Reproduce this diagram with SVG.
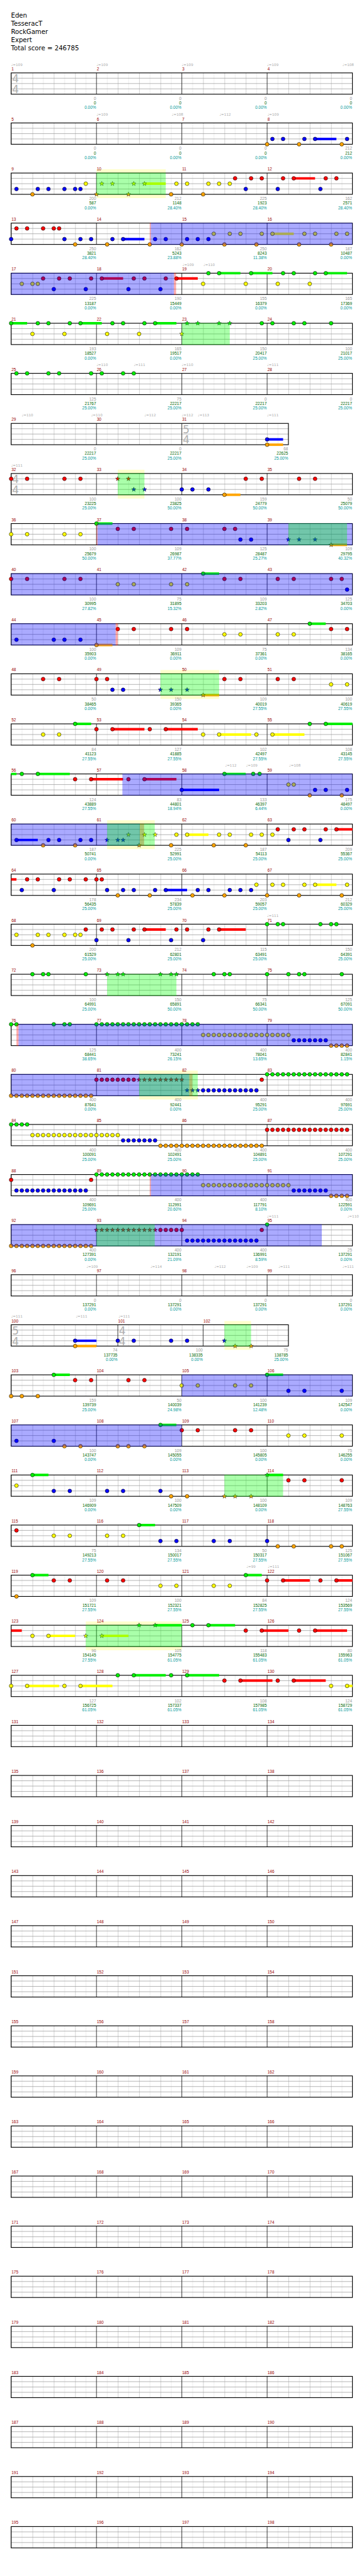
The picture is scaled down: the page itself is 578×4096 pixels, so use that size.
<svg xmlns="http://www.w3.org/2000/svg" xmlns:xlink="http://www.w3.org/1999/xlink" width="578" height="4096" viewBox="0 0 578 4096">
<style>
.h{font:18px "DejaVu Sans",sans-serif;fill:#000}
.m{font:11.5px "Liberation Sans",Arial,sans-serif;fill:#900}
.t{font:10px "DejaVu Sans",sans-serif;fill:#aaa}
.a,.b,.c{font:11.5px "Liberation Sans",Arial,sans-serif;text-anchor:end}
.a{fill:#999}.b{fill:#060}.c{fill:#099}
.ts{font:30px "DejaVu Sans",sans-serif;fill:#b0b0b0}
.hl{stroke:#999;stroke-width:1.3;fill:none}
.ml{stroke:#000;stroke-width:1.2;fill:none}
.bd{fill:none;stroke:#000;stroke-width:2}
.sg,.sr,.sy,.sb,.so{stroke-width:7;fill:none}
.sg{stroke:#0e0}.sr{stroke:#f00}.sy{stroke:#ff0}.sb{stroke:#00f}.so{stroke:#ffa500}
.bl{fill:#00f;fill-opacity:.333}
.gr{fill:#0f0;fill-opacity:.333}
.pk{fill:#f00;fill-opacity:.333}
.yb{fill:#ff0;fill-opacity:.2}
</style>
<defs>
<pattern id="bt" width="60" height="60" patternUnits="userSpaceOnUse"><rect width="60" height="60" fill="#fff"/><path d="M30.5 0V60" stroke="#ddd"/><path d="M0.5 0V60" stroke="#999"/></pattern>
<g id="S4"><rect width="960" height="60" fill="url(#bt)"/><path d="M0 15H960M0 30H960M0 45H960" class="hl"/><path d="M240 0V60M480 0V60M720 0V60" class="ml"/><rect width="960" height="60" class="bd"/></g>
<circle id="G" r="5.3" fill="#0e0" stroke="#000"/>
<circle id="R" cy="15" r="5.3" fill="#f00" stroke="#000"/>
<circle id="Y" cy="30" r="5.3" fill="#ff0" stroke="#000"/>
<circle id="B" cy="45" r="5.3" fill="#00f" stroke="#000"/>
<circle id="O" cy="60" r="5.3" fill="#ffa500" stroke="#000"/>
<path id="st" d="M0-6.5L1.6-2.2 6.2-2 2.6.8 3.8 5.3 0 2.7-3.8 5.3-2.6.8-6.2-2-1.6-2.2Z" stroke="#000" stroke-width=".8"/>
<g id="SG" fill="#0e0"><use href="#st"/></g>
<g id="SR" fill="#f00"><use href="#st" y="15"/></g>
<g id="SY" fill="#ff0"><use href="#st" y="30"/></g>
<g id="SB" fill="#00f"><use href="#st" y="45"/></g>
<g id="SO" fill="#ffa500"><use href="#st" y="60"/></g>
</defs>
<rect width="578" height="4096" fill="#fff"/>
<g transform="scale(0.5645)">
<g id="title">
<text class="h" x="31" y="49">Eden</text>
<text class="h" x="31" y="72">TesseracT</text>
<text class="h" x="31" y="95">RockGamer</text>
<text class="h" x="31" y="118">Expert</text>
<text class="h" x="31" y="141">Total score = 246785</text>
</g>

<g id="row1" transform="translate(31.3,205.3)"><use href="#S4"/>
<text class="ts" x="3" y="27">4</text><text class="ts" x="3" y="57">4</text>
<text class="t" y="-20"><tspan x="0">♩=109</tspan><tspan x="240">♩=109</tspan><tspan x="480">♩=109</tspan><tspan x="720">♩=109</tspan><tspan x="932">♩=108</tspan></text>
<text class="m" y="-7"><tspan x="1">1</tspan><tspan x="241">2</tspan><tspan x="481">3</tspan><tspan x="721">4</tspan></text>
<text class="a" y="76"><tspan x="239">0</tspan><tspan x="479">0</tspan><tspan x="719">0</tspan><tspan x="959">0</tspan></text>
<text class="b" y="89"><tspan x="239">0</tspan><tspan x="479">0</tspan><tspan x="719">0</tspan><tspan x="959">0</tspan></text>
<text class="c" y="102"><tspan x="239">0.00%</tspan><tspan x="479">0.00%</tspan><tspan x="719">0.00%</tspan><tspan x="959">0.00%</tspan></text>
</g>

<g id="row2" transform="translate(31.3,346.35)"><use href="#S4"/>
<path class="sb" d="M855 45H915"/>
<use href="#B" x="735"/><use href="#B" x="765"/><use href="#B" x="825"/><use href="#B" x="855"/><use href="#B" x="945"/>
<use href="#O" x="720"/><use href="#O" x="810"/><use href="#O" x="930"/>
<text class="t" y="-20"><tspan x="240">♩=109</tspan><tspan x="452">♩=108</tspan><tspan x="586">♩=112</tspan><tspan x="721">♩=109</tspan></text>
<text class="m" y="-7"><tspan x="1">5</tspan><tspan x="241">6</tspan><tspan x="481">7</tspan><tspan x="721">8</tspan></text>
<text class="a" y="76"><tspan x="239">0</tspan><tspan x="479">0</tspan><tspan x="719">0</tspan><tspan x="959">212</tspan></text>
<text class="b" y="89"><tspan x="239">0</tspan><tspan x="479">0</tspan><tspan x="719">0</tspan><tspan x="959">212</tspan></text>
<text class="c" y="102"><tspan x="239">0.00%</tspan><tspan x="479">0.00%</tspan><tspan x="719">0.00%</tspan><tspan x="959">0.00%</tspan></text>
</g>

<g id="row3" transform="translate(31.3,487.4)">
<rect class="yb" x="240" y="-10.6" width="195" height="81.2"/>
<use href="#S4"/>
<path class="sr" d="M795 15H855"/><path class="sy" d="M375 30H435"/>
<use href="#B" x="15"/><use href="#B" x="75"/><use href="#B" x="105"/><use href="#B" x="150"/><use href="#B" x="180"/><use href="#B" x="195"/><use href="#B" x="660"/><use href="#B" x="750"/><use href="#B" x="870"/>
<use href="#O" x="60"/><use href="#O" x="450"/><use href="#O" x="540"/>
<use href="#Y" x="210"/><use href="#Y" x="465"/><use href="#Y" x="495"/><use href="#Y" x="555"/><use href="#Y" x="585"/><use href="#Y" x="615"/>
<use href="#R" x="630"/><use href="#R" x="675"/><use href="#R" x="705"/><use href="#R" x="765"/><use href="#R" x="795"/><use href="#R" x="885"/><use href="#R" x="915"/>
<use href="#SY" x="255"/><use href="#SY" x="285"/><use href="#SY" x="345"/><use href="#SY" x="375"/><use href="#SO" x="240"/><use href="#SO" x="330"/>
<rect class="gr" x="240" y="-1" width="195" height="62"/>
<text class="m" y="-7"><tspan x="1">9</tspan><tspan x="241">10</tspan><tspan x="481">11</tspan><tspan x="721">12</tspan></text>
<text class="a" y="76"><tspan x="239">200</tspan><tspan x="479">212</tspan><tspan x="719">225</tspan><tspan x="959">162</tspan></text>
<text class="b" y="89"><tspan x="239">587</tspan><tspan x="479">1148</tspan><tspan x="719">1923</tspan><tspan x="959">2571</tspan></text>
<text class="c" y="102"><tspan x="239">0.00%</tspan><tspan x="479">28.40%</tspan><tspan x="719">28.40%</tspan><tspan x="959">28.40%</tspan></text>
</g>

<g id="row4" transform="translate(31.3,628.45)"><use href="#S4"/>
<path class="sb" d="M315 45H375"/><path class="sy" d="M735 30H795"/>
<use href="#R" x="15"/><use href="#R" x="45"/><use href="#R" x="90"/><use href="#R" x="120"/><use href="#R" x="135"/>
<use href="#B" x="0"/><use href="#B" x="150"/><use href="#B" x="195"/><use href="#B" x="225"/><use href="#B" x="285"/><use href="#B" x="315"/><use href="#B" x="405"/><use href="#B" x="435"/><use href="#B" x="495"/><use href="#B" x="525"/><use href="#B" x="555"/>
<use href="#O" x="180"/><use href="#O" x="270"/><use href="#O" x="390"/><use href="#O" x="480"/><use href="#O" x="600"/><use href="#O" x="690"/><use href="#O" x="810"/><use href="#O" x="900"/>
<use href="#Y" x="570"/><use href="#Y" x="615"/><use href="#Y" x="645"/><use href="#Y" x="705"/><use href="#Y" x="735"/><use href="#Y" x="825"/><use href="#Y" x="855"/><use href="#Y" x="915"/><use href="#Y" x="945"/>
<rect class="pk" x="390" y="-1" width="3" height="62"/><rect class="bl" x="393" y="-1" width="567" height="62"/>
<text class="m" y="-7"><tspan x="1">13</tspan><tspan x="241">14</tspan><tspan x="481">15</tspan><tspan x="721">16</tspan></text>
<text class="a" y="76"><tspan x="239">250</tspan><tspan x="479">162</tspan><tspan x="719">250</tspan><tspan x="959">187</tspan></text>
<text class="b" y="89"><tspan x="239">3821</tspan><tspan x="479">5243</tspan><tspan x="719">8243</tspan><tspan x="959">10487</tspan></text>
<text class="c" y="102"><tspan x="239">28.40%</tspan><tspan x="479">23.88%</tspan><tspan x="719">11.38%</tspan><tspan x="959">0.00%</tspan></text>
</g>

<g id="row5" transform="translate(31.3,769.5)"><use href="#S4"/>
<path class="sr" d="M255 15H315M465 15H525"/><path class="sg" d="M585 0H645M675 0H735M885 0H945"/>
<use href="#R" x="90"/><use href="#R" x="135"/><use href="#R" x="165"/><use href="#R" x="225"/><use href="#R" x="255"/><use href="#R" x="345"/><use href="#R" x="375"/><use href="#R" x="435"/><use href="#R" x="465"/>
<use href="#Y" x="30"/><use href="#Y" x="60"/><use href="#Y" x="75"/><use href="#Y" x="540"/><use href="#Y" x="660"/><use href="#Y" x="750"/><use href="#Y" x="840"/>
<use href="#B" x="120"/><use href="#B" x="210"/><use href="#B" x="330"/><use href="#B" x="420"/>
<use href="#G" x="555"/><use href="#G" x="585"/><use href="#G" x="675"/><use href="#G" x="765"/><use href="#G" x="795"/><use href="#G" x="855"/><use href="#G" x="885"/>
<rect class="bl" x="0" y="-1" width="458" height="62"/><rect class="pk" x="458" y="-1" width="6" height="62"/>
<text class="t" y="-20"><tspan x="482">♩=109</tspan><tspan x="541">♩=110</tspan></text>
<text class="m" y="-7"><tspan x="1">17</tspan><tspan x="241">18</tspan><tspan x="481">19</tspan><tspan x="721">20</tspan></text>
<text class="a" y="76"><tspan x="239">225</tspan><tspan x="479">190</tspan><tspan x="719">155</tspan><tspan x="959">165</tspan></text>
<text class="b" y="89"><tspan x="239">13187</tspan><tspan x="479">15449</tspan><tspan x="719">16379</tspan><tspan x="959">17369</tspan></text>
<text class="c" y="102"><tspan x="239">0.00%</tspan><tspan x="479">0.00%</tspan><tspan x="719">0.00%</tspan><tspan x="959">0.00%</tspan></text>
</g>

<g id="row6" transform="translate(31.3,910.55)"><use href="#S4"/>
<path class="sg" d="M0 0H45M195 0H255M405 0H465"/>
<use href="#G" x="0"/><use href="#G" x="75"/><use href="#G" x="105"/><use href="#G" x="165"/><use href="#G" x="195"/><use href="#G" x="285"/><use href="#G" x="315"/><use href="#G" x="375"/><use href="#G" x="405"/><use href="#G" x="705"/><use href="#G" x="735"/><use href="#G" x="795"/><use href="#G" x="825"/><use href="#G" x="900"/>
<use href="#SG" x="495"/><use href="#SG" x="525"/><use href="#SG" x="585"/><use href="#SG" x="615"/>
<use href="#Y" x="60"/><use href="#Y" x="150"/><use href="#Y" x="270"/><use href="#Y" x="360"/><use href="#SY" x="480"/>
<rect class="gr" x="480" y="-1" width="135" height="62"/>
<text class="m" y="-7"><tspan x="1">21</tspan><tspan x="241">22</tspan><tspan x="481">23</tspan><tspan x="721">24</tspan></text>
<text class="a" y="76"><tspan x="239">193</tspan><tspan x="479">165</tspan><tspan x="719">150</tspan><tspan x="959">100</tspan></text>
<text class="b" y="89"><tspan x="239">18527</tspan><tspan x="479">19517</tspan><tspan x="719">20417</tspan><tspan x="959">21017</tspan></text>
<text class="c" y="102"><tspan x="239">0.00%</tspan><tspan x="479">0.00%</tspan><tspan x="719">25.00%</tspan><tspan x="959">25.00%</tspan></text>
</g>

<g id="row7" transform="translate(31.3,1051.6)"><use href="#S4"/>
<use href="#G" x="15"/><use href="#G" x="45"/><use href="#G" x="105"/><use href="#G" x="135"/><use href="#G" x="225"/><use href="#G" x="255"/><use href="#G" x="315"/><use href="#G" x="345"/>
<text class="t" y="-20"><tspan x="240">♩=110</tspan><tspan x="345">♩=111</tspan><tspan x="480">♩=110</tspan><tspan x="720">♩=111</tspan></text>
<text class="m" y="-7"><tspan x="1">25</tspan><tspan x="241">26</tspan><tspan x="481">27</tspan><tspan x="721">28</tspan></text>
<text class="a" y="76"><tspan x="239">125</tspan><tspan x="479">75</tspan><tspan x="719">0</tspan><tspan x="959">0</tspan></text>
<text class="b" y="89"><tspan x="239">21767</tspan><tspan x="479">22217</tspan><tspan x="719">22217</tspan><tspan x="959">22217</tspan></text>
<text class="c" y="102"><tspan x="239">25.00%</tspan><tspan x="479">25.00%</tspan><tspan x="719">25.00%</tspan><tspan x="959">25.00%</tspan></text>
</g>

<g id="row8" transform="translate(31.3,1192.65)">
<rect width="780" height="60" fill="url(#bt)"/><path d="M0 15H780M0 30H780M0 45H780" class="hl"/><path d="M240 0V60M480 0V60" class="ml"/><rect width="780" height="60" class="bd"/>
<text class="ts" x="483" y="27">5</text><text class="ts" x="483" y="57">4</text>
<path class="sb" d="M720 45H765"/><path class="so" d="M720 60H765"/>
<use href="#B" x="720"/><use href="#O" x="720"/>
<text class="t" y="-20"><tspan x="30">♩=110</tspan><tspan x="225">♩=110</tspan><tspan x="375">♩=112</tspan><tspan x="480">♩=112</tspan><tspan x="525">♩=113</tspan><tspan x="720">♩=111</tspan></text>
<text class="m" y="-7"><tspan x="1">29</tspan><tspan x="241">30</tspan><tspan x="481">31</tspan></text>
<text class="a" y="76"><tspan x="239">0</tspan><tspan x="479">0</tspan><tspan x="779">68</tspan></text>
<text class="b" y="89"><tspan x="239">22217</tspan><tspan x="479">22217</tspan><tspan x="779">22625</tspan></text>
<text class="c" y="102"><tspan x="239">25.00%</tspan><tspan x="479">25.00%</tspan><tspan x="779">25.00%</tspan></text>
</g>

<g id="row9" transform="translate(31.3,1333.7)">
<rect class="yb" x="300" y="-10.6" width="75" height="81.2"/>
<use href="#S4"/>
<text class="ts" x="3" y="27">4</text><text class="ts" x="3" y="57">4</text>
<path class="so" d="M600 60H645"/>
<use href="#R" x="0"/><use href="#R" x="45"/><use href="#R" x="150"/><use href="#R" x="195"/><use href="#R" x="660"/><use href="#R" x="705"/><use href="#R" x="810"/><use href="#R" x="855"/>
<use href="#SR" x="300"/><use href="#SR" x="330"/><use href="#SB" x="345"/><use href="#SB" x="375"/>
<use href="#B" x="480"/><use href="#B" x="510"/><use href="#B" x="555"/><use href="#O" x="600"/>
<rect class="gr" x="300" y="-1" width="75" height="62"/>
<text class="t" y="-20"><tspan x="0">♩=111</tspan></text>
<text class="m" y="-7"><tspan x="1">32</tspan><tspan x="241">33</tspan><tspan x="481">34</tspan><tspan x="721">35</tspan></text>
<text class="a" y="76"><tspan x="239">100</tspan><tspan x="479">100</tspan><tspan x="719">159</tspan><tspan x="959">50</tspan></text>
<text class="b" y="89"><tspan x="239">23225</tspan><tspan x="479">23825</tspan><tspan x="719">24779</tspan><tspan x="959">25079</tspan></text>
<text class="c" y="102"><tspan x="239">25.00%</tspan><tspan x="479">50.00%</tspan><tspan x="719">50.00%</tspan><tspan x="959">50.00%</tspan></text>
</g>

<g id="row10" transform="translate(31.3,1474.75)"><use href="#S4"/>
<path class="sg" d="M240 0H285"/><path class="so" d="M900 60H945"/>
<use href="#Y" x="0"/><use href="#Y" x="45"/><use href="#Y" x="150"/><use href="#Y" x="195"/><use href="#G" x="240"/>
<use href="#R" x="300"/><use href="#R" x="345"/><use href="#R" x="450"/><use href="#R" x="495"/><use href="#R" x="600"/><use href="#R" x="630"/>
<use href="#B" x="645"/><use href="#B" x="675"/><use href="#SB" x="780"/><use href="#SB" x="810"/><use href="#SB" x="855"/><use href="#SO" x="900"/>
<rect class="pk" x="240" y="-1" width="3" height="62"/><rect class="bl" x="243" y="-1" width="717" height="62"/><rect class="gr" x="780" y="-1" width="165" height="62"/>
<text class="m" y="-7"><tspan x="1">36</tspan><tspan x="241">37</tspan><tspan x="481">38</tspan><tspan x="721">39</tspan></text>
<text class="a" y="76"><tspan x="239">100</tspan><tspan x="479">109</tspan><tspan x="719">125</tspan><tspan x="959">109</tspan></text>
<text class="b" y="89"><tspan x="239">25679</tspan><tspan x="479">26987</tspan><tspan x="719">28487</tspan><tspan x="959">29795</tspan></text>
<text class="c" y="102"><tspan x="239">50.00%</tspan><tspan x="479">37.77%</tspan><tspan x="719">25.27%</tspan><tspan x="959">40.32%</tspan></text>
</g>

<g id="row11" transform="translate(31.3,1615.8)"><use href="#S4"/>
<path class="sg" d="M540 0H585"/>
<use href="#R" x="0"/><use href="#R" x="45"/><use href="#R" x="150"/><use href="#R" x="195"/><use href="#R" x="600"/><use href="#R" x="645"/><use href="#R" x="750"/><use href="#R" x="795"/><use href="#R" x="900"/><use href="#R" x="930"/>
<use href="#Y" x="300"/><use href="#Y" x="345"/><use href="#Y" x="450"/><use href="#Y" x="495"/><use href="#G" x="540"/><use href="#B" x="945"/>
<rect class="bl" x="0" y="-1" width="960" height="62"/>
<text class="m" y="-7"><tspan x="1">40</tspan><tspan x="241">41</tspan><tspan x="481">42</tspan><tspan x="721">43</tspan></text>
<text class="a" y="76"><tspan x="239">100</tspan><tspan x="479">75</tspan><tspan x="719">109</tspan><tspan x="959">125</tspan></text>
<text class="b" y="89"><tspan x="239">30995</tspan><tspan x="479">31895</tspan><tspan x="719">33203</tspan><tspan x="959">34703</tspan></text>
<text class="c" y="102"><tspan x="239">27.82%</tspan><tspan x="479">15.32%</tspan><tspan x="719">2.82%</tspan><tspan x="959">0.00%</tspan></text>
</g>

<g id="row12" transform="translate(31.3,1756.85)"><use href="#S4"/>
<path class="so" d="M240 60H285"/><path class="sg" d="M840 0H885"/>
<use href="#B" x="15"/><use href="#B" x="120"/><use href="#B" x="150"/><use href="#B" x="195"/><use href="#O" x="240"/>
<use href="#R" x="300"/><use href="#R" x="345"/><use href="#R" x="450"/><use href="#R" x="495"/><use href="#R" x="900"/><use href="#R" x="945"/>
<use href="#Y" x="600"/><use href="#Y" x="645"/><use href="#Y" x="750"/><use href="#Y" x="795"/><use href="#G" x="840"/>
<rect class="bl" x="0" y="-1" width="294" height="62"/><rect class="pk" x="294" y="-1" width="6" height="62"/>
<text class="m" y="-7"><tspan x="1">44</tspan><tspan x="241">45</tspan><tspan x="481">46</tspan><tspan x="721">47</tspan></text>
<text class="a" y="76"><tspan x="239">100</tspan><tspan x="479">109</tspan><tspan x="719">75</tspan><tspan x="959">134</tspan></text>
<text class="b" y="89"><tspan x="239">35903</tspan><tspan x="479">36911</tspan><tspan x="719">37361</tspan><tspan x="959">38165</tspan></text>
<text class="c" y="102"><tspan x="239">0.00%</tspan><tspan x="479">0.00%</tspan><tspan x="719">0.00%</tspan><tspan x="959">0.00%</tspan></text>
</g>

<g id="row13" transform="translate(31.3,1897.9)">
<rect class="yb" x="420" y="-10.6" width="165" height="81.2"/>
<use href="#S4"/>
<path class="so" d="M540 60H585"/>
<use href="#R" x="90"/><use href="#R" x="135"/><use href="#R" x="240"/><use href="#R" x="270"/><use href="#R" x="600"/><use href="#R" x="645"/><use href="#R" x="750"/><use href="#R" x="795"/>
<use href="#B" x="285"/><use href="#B" x="315"/><use href="#SB" x="420"/><use href="#SB" x="450"/><use href="#SB" x="495"/><use href="#SO" x="540"/>
<use href="#Y" x="900"/><use href="#Y" x="945"/>
<rect class="gr" x="420" y="-1" width="165" height="62"/>
<text class="m" y="-7"><tspan x="1">48</tspan><tspan x="241">49</tspan><tspan x="481">50</tspan><tspan x="721">51</tspan></text>
<text class="a" y="76"><tspan x="239">50</tspan><tspan x="479">150</tspan><tspan x="719">109</tspan><tspan x="959">100</tspan></text>
<text class="b" y="89"><tspan x="239">38465</tspan><tspan x="479">39365</tspan><tspan x="719">40019</tspan><tspan x="959">40619</tspan></text>
<text class="c" y="102"><tspan x="239">0.00%</tspan><tspan x="479">0.00%</tspan><tspan x="719">27.55%</tspan><tspan x="959">27.55%</tspan></text>
</g>

<g id="row14" transform="translate(31.3,2038.95)"><use href="#S4"/>
<path class="sy" d="M585 30H675M735 30H825"/><path class="sg" d="M180 0H225M885 0H960"/><path class="sr" d="M285 15H375M435 15H525"/>
<use href="#Y" x="90"/><use href="#Y" x="135"/><use href="#Y" x="540"/><use href="#Y" x="585"/><use href="#Y" x="690"/><use href="#Y" x="735"/>
<use href="#G" x="180"/><use href="#G" x="840"/><use href="#G" x="885"/>
<use href="#R" x="240"/><use href="#R" x="285"/><use href="#R" x="390"/><use href="#R" x="435"/>
<text class="m" y="-7"><tspan x="1">52</tspan><tspan x="241">53</tspan><tspan x="481">54</tspan><tspan x="721">55</tspan></text>
<text class="a" y="76"><tspan x="239">84</tspan><tspan x="479">127</tspan><tspan x="719">102</tspan><tspan x="959">108</tspan></text>
<text class="b" y="89"><tspan x="239">41123</tspan><tspan x="479">41885</tspan><tspan x="719">42497</tspan><tspan x="959">43145</tspan></text>
<text class="c" y="102"><tspan x="239">27.55%</tspan><tspan x="479">27.55%</tspan><tspan x="719">27.55%</tspan><tspan x="959">27.55%</tspan></text>
</g>

<g id="row15" transform="translate(31.3,2180)"><use href="#S4"/>
<path class="sg" d="M0 0H15M75 0H165M600 0H660"/><path class="sr" d="M225 15H315M375 15H465"/><path class="sb" d="M480 45H585"/>
<use href="#G" x="30"/><use href="#G" x="75"/><use href="#G" x="600"/><use href="#G" x="681"/><use href="#G" x="699"/>
<use href="#R" x="180"/><use href="#R" x="225"/><use href="#R" x="330"/><use href="#R" x="375"/>
<use href="#B" x="480"/><use href="#B" x="855"/><use href="#B" x="885"/><use href="#B" x="945"/>
<use href="#Y" x="780"/><use href="#Y" x="795"/><use href="#O" x="840"/><use href="#O" x="930"/>
<rect class="bl" x="313" y="-1" width="647" height="62"/>
<text class="t" y="-20"><tspan x="602">♩=112</tspan><tspan x="661">♩=109</tspan><tspan x="782">♩=108</tspan></text>
<text class="m" y="-7"><tspan x="1">56</tspan><tspan x="241">57</tspan><tspan x="481">58</tspan><tspan x="721">59</tspan></text>
<text class="a" y="76"><tspan x="239">124</tspan><tspan x="479">83</tspan><tspan x="719">133</tspan><tspan x="959">175</tspan></text>
<text class="b" y="89"><tspan x="239">43889</tspan><tspan x="479">44801</tspan><tspan x="719">46397</tspan><tspan x="959">48497</tspan></text>
<text class="c" y="102"><tspan x="239">27.55%</tspan><tspan x="479">18.94%</tspan><tspan x="719">6.44%</tspan><tspan x="959">0.00%</tspan></text>
</g>

<g id="row16" transform="translate(31.3,2321.05)">
<rect class="yb" x="270" y="-10.6" width="134" height="81.2"/>
<use href="#S4"/>
<path class="sb" d="M15 45H75"/><path class="sy" d="M495 30H555"/><path class="sr" d="M915 15H960"/>
<use href="#B" x="15"/><use href="#B" x="105"/><use href="#B" x="135"/><use href="#B" x="195"/><use href="#B" x="225"/><use href="#B" x="780"/><use href="#B" x="870"/>
<use href="#O" x="90"/><use href="#O" x="180"/><use href="#O" x="450"/><use href="#O" x="570"/><use href="#O" x="660"/>
<use href="#SB" x="270"/><use href="#SB" x="300"/><use href="#SB" x="315"/><use href="#SY" x="330"/><use href="#SY" x="375"/><use href="#SY" x="405"/><use href="#SO" x="360"/>
<use href="#Y" x="465"/><use href="#Y" x="495"/><use href="#Y" x="585"/><use href="#Y" x="615"/><use href="#Y" x="675"/><use href="#Y" x="705"/><use href="#Y" x="735"/>
<use href="#R" x="750"/><use href="#R" x="795"/><use href="#R" x="825"/><use href="#R" x="885"/><use href="#R" x="915"/>
<rect class="bl" x="0" y="-1" width="362" height="62"/><rect class="pk" x="362" y="-1" width="12" height="62"/><rect class="gr" x="270" y="-1" width="134" height="62"/>
<text class="m" y="-7"><tspan x="1">60</tspan><tspan x="241">61</tspan><tspan x="481">62</tspan><tspan x="721">63</tspan></text>
<text class="a" y="76"><tspan x="239">187</tspan><tspan x="479">225</tspan><tspan x="719">187</tspan><tspan x="959">209</tspan></text>
<text class="b" y="89"><tspan x="239">50741</tspan><tspan x="479">52991</tspan><tspan x="719">54113</tspan><tspan x="959">55367</tspan></text>
<text class="c" y="102"><tspan x="239">0.00%</tspan><tspan x="479">25.00%</tspan><tspan x="719">25.00%</tspan><tspan x="959">25.00%</tspan></text>
</g>

<g id="row17" transform="translate(31.3,2462.1)"><use href="#S4"/>
<path class="sr" d="M0 15H15"/><path class="sb" d="M435 45H495"/><path class="sy" d="M855 30H915"/>
<use href="#R" x="45"/><use href="#R" x="75"/><use href="#R" x="135"/><use href="#R" x="165"/><use href="#R" x="210"/><use href="#R" x="240"/><use href="#R" x="255"/>
<use href="#B" x="30"/><use href="#B" x="120"/><use href="#B" x="270"/><use href="#B" x="315"/><use href="#B" x="345"/><use href="#B" x="405"/><use href="#B" x="435"/><use href="#B" x="525"/><use href="#B" x="555"/><use href="#B" x="615"/><use href="#B" x="645"/><use href="#B" x="675"/>
<use href="#O" x="300"/><use href="#O" x="390"/><use href="#O" x="510"/><use href="#O" x="600"/><use href="#O" x="720"/><use href="#O" x="810"/><use href="#O" x="930"/>
<use href="#Y" x="690"/><use href="#Y" x="735"/><use href="#Y" x="765"/><use href="#Y" x="825"/><use href="#Y" x="855"/><use href="#Y" x="945"/>
<text class="m" y="-7"><tspan x="1">64</tspan><tspan x="241">65</tspan><tspan x="481">66</tspan><tspan x="721">67</tspan></text>
<text class="a" y="76"><tspan x="239">178</tspan><tspan x="479">234</tspan><tspan x="719">203</tspan><tspan x="959">212</tspan></text>
<text class="b" y="89"><tspan x="239">56435</tspan><tspan x="479">57839</tspan><tspan x="719">59057</tspan><tspan x="959">60329</tspan></text>
<text class="c" y="102"><tspan x="239">25.00%</tspan><tspan x="479">25.00%</tspan><tspan x="719">25.00%</tspan><tspan x="959">25.00%</tspan></text>
</g>

<g id="row18" transform="translate(31.3,2603.15)"><use href="#S4"/>
<path class="sr" d="M375 15H435M585 15H660"/>
<use href="#Y" x="15"/><use href="#Y" x="75"/><use href="#Y" x="105"/><use href="#Y" x="150"/><use href="#Y" x="180"/><use href="#Y" x="195"/><use href="#O" x="60"/>
<use href="#R" x="210"/><use href="#R" x="255"/><use href="#R" x="285"/><use href="#R" x="345"/><use href="#R" x="375"/><use href="#R" x="465"/><use href="#R" x="495"/><use href="#R" x="555"/><use href="#R" x="585"/>
<use href="#B" x="240"/><use href="#B" x="330"/><use href="#B" x="450"/><use href="#B" x="540"/>
<use href="#G" x="720"/><use href="#G" x="750"/><use href="#G" x="765"/><use href="#G" x="870"/><use href="#G" x="900"/><use href="#G" x="915"/>
<text class="t" y="-20"><tspan x="720">♩=111</tspan></text>
<text class="m" y="-7"><tspan x="1">68</tspan><tspan x="241">69</tspan><tspan x="481">70</tspan><tspan x="721">71</tspan></text>
<text class="a" y="76"><tspan x="239">200</tspan><tspan x="479">212</tspan><tspan x="719">115</tspan><tspan x="959">150</tspan></text>
<text class="b" y="89"><tspan x="239">61529</tspan><tspan x="479">62801</tspan><tspan x="719">63491</tspan><tspan x="959">64391</tspan></text>
<text class="c" y="102"><tspan x="239">25.00%</tspan><tspan x="479">25.00%</tspan><tspan x="719">25.00%</tspan><tspan x="959">25.00%</tspan></text>
</g>

<g id="row19" transform="translate(31.3,2744.2)"><use href="#S4"/>
<use href="#G" x="60"/><use href="#G" x="90"/><use href="#G" x="105"/><use href="#G" x="210"/><use href="#G" x="570"/><use href="#G" x="600"/><use href="#G" x="615"/><use href="#G" x="720"/><use href="#G" x="780"/><use href="#G" x="810"/><use href="#G" x="825"/><use href="#G" x="930"/>
<use href="#SG" x="270"/><use href="#SG" x="300"/><use href="#SG" x="315"/><use href="#SG" x="420"/><use href="#SG" x="450"/><use href="#SG" x="465"/>
<rect class="gr" x="270" y="-1" width="195" height="62"/>
<text class="m" y="-7"><tspan x="1">72</tspan><tspan x="241">73</tspan><tspan x="481">74</tspan><tspan x="721">75</tspan></text>
<text class="a" y="76"><tspan x="239">100</tspan><tspan x="479">150</tspan><tspan x="719">75</tspan><tspan x="959">125</tspan></text>
<text class="b" y="89"><tspan x="239">64991</tspan><tspan x="479">65891</tspan><tspan x="719">66341</tspan><tspan x="959">67091</tspan></text>
<text class="c" y="102"><tspan x="239">25.00%</tspan><tspan x="479">50.00%</tspan><tspan x="719">50.00%</tspan><tspan x="959">50.00%</tspan></text>
</g>

<g id="row20" transform="translate(31.3,2885.25)"><use href="#S4"/>
<use href="#G" x="0"/><use href="#G" x="15"/><use href="#G" x="120"/><use href="#G" x="150"/><use href="#G" x="165"/>
<use href="#G" x="240"/><use href="#G" x="255"/><use href="#G" x="270"/><use href="#G" x="285"/><use href="#G" x="300"/><use href="#G" x="315"/><use href="#G" x="330"/><use href="#G" x="345"/><use href="#G" x="360"/><use href="#G" x="375"/><use href="#G" x="390"/><use href="#G" x="405"/><use href="#G" x="420"/><use href="#G" x="435"/><use href="#G" x="450"/><use href="#G" x="465"/><use href="#G" x="480"/><use href="#G" x="495"/><use href="#G" x="510"/><use href="#G" x="525"/>
<use href="#Y" x="540"/><use href="#Y" x="555"/><use href="#Y" x="570"/><use href="#Y" x="585"/><use href="#Y" x="600"/><use href="#Y" x="615"/><use href="#Y" x="630"/><use href="#Y" x="645"/><use href="#Y" x="660"/><use href="#Y" x="675"/><use href="#Y" x="690"/><use href="#Y" x="705"/><use href="#Y" x="720"/><use href="#Y" x="735"/><use href="#Y" x="750"/><use href="#Y" x="765"/><use href="#Y" x="780"/>
<use href="#B" x="795"/><use href="#B" x="810"/><use href="#B" x="825"/><use href="#B" x="840"/><use href="#B" x="855"/><use href="#B" x="870"/><use href="#B" x="885"/>
<use href="#O" x="900"/><use href="#O" x="915"/><use href="#O" x="930"/><use href="#O" x="945"/>
<rect class="pk" x="15" y="-1" width="6" height="62"/><rect class="bl" x="21" y="-1" width="939" height="62"/>
<text class="m" y="-7"><tspan x="1">76</tspan><tspan x="241">77</tspan><tspan x="481">78</tspan><tspan x="721">79</tspan></text>
<text class="a" y="76"><tspan x="239">125</tspan><tspan x="479">400</tspan><tspan x="719">400</tspan><tspan x="959">400</tspan></text>
<text class="b" y="89"><tspan x="239">68441</tspan><tspan x="479">73241</tspan><tspan x="719">78041</tspan><tspan x="959">82841</tspan></text>
<text class="c" y="102"><tspan x="239">38.65%</tspan><tspan x="479">26.15%</tspan><tspan x="719">13.65%</tspan><tspan x="959">1.15%</tspan></text>
</g>

<g id="row21" transform="translate(31.3,3026.3)">
<rect class="yb" x="360" y="-10.6" width="165" height="81.2"/>
<use href="#S4"/>
<use href="#O" x="0"/><use href="#O" x="15"/><use href="#O" x="30"/><use href="#O" x="45"/><use href="#O" x="60"/><use href="#O" x="75"/><use href="#O" x="90"/><use href="#O" x="105"/><use href="#O" x="120"/><use href="#O" x="135"/><use href="#O" x="150"/><use href="#O" x="165"/><use href="#O" x="180"/><use href="#O" x="195"/><use href="#O" x="210"/><use href="#O" x="225"/>
<use href="#R" x="240"/><use href="#R" x="255"/><use href="#R" x="270"/><use href="#R" x="285"/><use href="#R" x="300"/><use href="#R" x="315"/><use href="#R" x="330"/><use href="#R" x="345"/>
<use href="#SR" x="360"/><use href="#SR" x="375"/><use href="#SR" x="390"/><use href="#SR" x="405"/><use href="#SR" x="420"/><use href="#SR" x="435"/><use href="#SR" x="450"/><use href="#SR" x="465"/><use href="#SR" x="480"/>
<use href="#SB" x="495"/><use href="#SB" x="510"/><use href="#SB" x="525"/>
<use href="#B" x="540"/><use href="#B" x="555"/><use href="#B" x="570"/><use href="#B" x="585"/><use href="#B" x="600"/><use href="#B" x="615"/><use href="#B" x="630"/><use href="#B" x="645"/><use href="#B" x="660"/><use href="#B" x="675"/><use href="#B" x="690"/>
<use href="#R" x="705"/>
<use href="#G" x="720"/><use href="#G" x="735"/><use href="#G" x="750"/><use href="#G" x="765"/><use href="#G" x="780"/><use href="#G" x="795"/><use href="#G" x="810"/><use href="#G" x="825"/><use href="#G" x="840"/><use href="#G" x="855"/><use href="#G" x="870"/><use href="#G" x="885"/><use href="#G" x="900"/><use href="#G" x="915"/><use href="#G" x="930"/><use href="#G" x="945"/>
<rect class="bl" x="0" y="-1" width="501" height="62"/><rect class="pk" x="501" y="-1" width="9" height="62"/><rect class="gr" x="360" y="-1" width="165" height="62"/>
<text class="m" y="-7"><tspan x="1">80</tspan><tspan x="241">81</tspan><tspan x="481">82</tspan><tspan x="721">83</tspan></text>
<text class="a" y="76"><tspan x="239">400</tspan><tspan x="479">400</tspan><tspan x="719">400</tspan><tspan x="959">400</tspan></text>
<text class="b" y="89"><tspan x="239">87641</tspan><tspan x="479">92441</tspan><tspan x="719">95291</tspan><tspan x="959">97691</tspan></text>
<text class="c" y="102"><tspan x="239">0.00%</tspan><tspan x="479">0.00%</tspan><tspan x="719">25.00%</tspan><tspan x="959">25.00%</tspan></text>
</g>

<g id="row22" transform="translate(31.3,3167.35)"><use href="#S4"/>
<use href="#G" x="0"/><use href="#G" x="15"/><use href="#G" x="30"/><use href="#G" x="45"/>
<use href="#Y" x="60"/><use href="#Y" x="75"/><use href="#Y" x="90"/><use href="#Y" x="105"/><use href="#Y" x="120"/><use href="#Y" x="135"/><use href="#Y" x="150"/><use href="#Y" x="165"/><use href="#Y" x="180"/><use href="#Y" x="195"/><use href="#Y" x="210"/><use href="#Y" x="225"/><use href="#Y" x="240"/><use href="#Y" x="255"/><use href="#Y" x="270"/><use href="#Y" x="285"/><use href="#Y" x="300"/>
<use href="#B" x="315"/><use href="#B" x="330"/><use href="#B" x="345"/><use href="#B" x="360"/><use href="#B" x="375"/><use href="#B" x="390"/><use href="#B" x="405"/>
<use href="#O" x="420"/><use href="#O" x="435"/><use href="#O" x="450"/><use href="#O" x="465"/><use href="#O" x="480"/><use href="#O" x="495"/><use href="#O" x="510"/><use href="#O" x="525"/><use href="#O" x="540"/><use href="#O" x="555"/><use href="#O" x="570"/><use href="#O" x="585"/><use href="#O" x="600"/><use href="#O" x="615"/><use href="#O" x="630"/><use href="#O" x="645"/><use href="#O" x="660"/><use href="#O" x="675"/><use href="#O" x="690"/><use href="#O" x="705"/>
<use href="#R" x="720"/><use href="#R" x="735"/><use href="#R" x="750"/><use href="#R" x="765"/><use href="#R" x="780"/><use href="#R" x="795"/><use href="#R" x="810"/><use href="#R" x="825"/><use href="#R" x="840"/><use href="#R" x="855"/><use href="#R" x="870"/><use href="#R" x="885"/><use href="#R" x="900"/><use href="#R" x="915"/><use href="#R" x="930"/><use href="#R" x="945"/>
<text class="m" y="-7"><tspan x="1">84</tspan><tspan x="241">85</tspan><tspan x="481">86</tspan><tspan x="721">87</tspan></text>
<text class="a" y="76"><tspan x="239">400</tspan><tspan x="479">400</tspan><tspan x="719">400</tspan><tspan x="959">400</tspan></text>
<text class="b" y="89"><tspan x="239">100091</tspan><tspan x="479">102491</tspan><tspan x="719">104891</tspan><tspan x="959">107291</tspan></text>
<text class="c" y="102"><tspan x="239">25.00%</tspan><tspan x="479">25.00%</tspan><tspan x="719">25.00%</tspan><tspan x="959">25.00%</tspan></text>
</g>

<g id="row23" transform="translate(31.3,3308.4)"><use href="#S4"/>
<use href="#R" x="0"/><use href="#R" x="225"/>
<use href="#B" x="15"/><use href="#B" x="30"/><use href="#B" x="45"/><use href="#B" x="60"/><use href="#B" x="75"/><use href="#B" x="90"/><use href="#B" x="105"/><use href="#B" x="120"/><use href="#B" x="135"/><use href="#B" x="150"/><use href="#B" x="165"/><use href="#B" x="180"/><use href="#B" x="195"/><use href="#B" x="210"/>
<use href="#G" x="240"/><use href="#G" x="255"/><use href="#G" x="270"/><use href="#G" x="285"/><use href="#G" x="300"/><use href="#G" x="315"/><use href="#G" x="330"/><use href="#G" x="345"/><use href="#G" x="360"/><use href="#G" x="375"/><use href="#G" x="390"/><use href="#G" x="405"/><use href="#G" x="420"/><use href="#G" x="435"/><use href="#G" x="450"/><use href="#G" x="465"/><use href="#G" x="480"/><use href="#G" x="495"/><use href="#G" x="510"/><use href="#G" x="525"/>
<use href="#Y" x="540"/><use href="#Y" x="555"/><use href="#Y" x="570"/><use href="#Y" x="585"/><use href="#Y" x="600"/><use href="#Y" x="615"/><use href="#Y" x="630"/><use href="#Y" x="645"/><use href="#Y" x="660"/><use href="#Y" x="675"/><use href="#Y" x="690"/><use href="#Y" x="705"/><use href="#Y" x="720"/><use href="#Y" x="735"/><use href="#Y" x="750"/><use href="#Y" x="765"/><use href="#Y" x="780"/>
<use href="#B" x="795"/><use href="#B" x="810"/><use href="#B" x="825"/><use href="#B" x="840"/><use href="#B" x="855"/><use href="#B" x="870"/><use href="#B" x="885"/>
<use href="#O" x="900"/><use href="#O" x="915"/><use href="#O" x="930"/><use href="#O" x="945"/>
<rect class="pk" x="390" y="-1" width="3" height="62"/><rect class="bl" x="393" y="-1" width="567" height="62"/>
<text class="m" y="-7"><tspan x="1">88</tspan><tspan x="241">89</tspan><tspan x="481">90</tspan><tspan x="721">91</tspan></text>
<text class="a" y="76"><tspan x="239">400</tspan><tspan x="479">400</tspan><tspan x="719">400</tspan><tspan x="959">400</tspan></text>
<text class="b" y="89"><tspan x="239">109691</tspan><tspan x="479">112991</tspan><tspan x="719">117791</tspan><tspan x="959">122591</tspan></text>
<text class="c" y="102"><tspan x="239">25.00%</tspan><tspan x="479">20.60%</tspan><tspan x="719">8.10%</tspan><tspan x="959">0.00%</tspan></text>
</g>

<g id="row24" transform="translate(31.3,3449.45)"><use href="#S4"/>
<use href="#O" x="0"/><use href="#O" x="15"/><use href="#O" x="30"/><use href="#O" x="45"/><use href="#O" x="60"/><use href="#O" x="75"/><use href="#O" x="90"/><use href="#O" x="105"/><use href="#O" x="120"/><use href="#O" x="135"/><use href="#O" x="150"/><use href="#O" x="165"/><use href="#O" x="180"/><use href="#O" x="195"/><use href="#O" x="210"/><use href="#O" x="225"/>
<use href="#SR" x="240"/><use href="#SR" x="255"/><use href="#SR" x="270"/><use href="#SR" x="285"/><use href="#SR" x="300"/><use href="#SR" x="315"/><use href="#SR" x="330"/><use href="#SR" x="345"/><use href="#SR" x="360"/><use href="#SR" x="375"/><use href="#SR" x="390"/><use href="#SR" x="405"/>
<use href="#R" x="420"/><use href="#R" x="435"/><use href="#R" x="450"/><use href="#R" x="465"/><use href="#R" x="480"/><use href="#R" x="705"/>
<use href="#B" x="495"/><use href="#B" x="510"/><use href="#B" x="525"/><use href="#B" x="540"/><use href="#B" x="555"/><use href="#B" x="570"/><use href="#B" x="585"/><use href="#B" x="600"/><use href="#B" x="615"/><use href="#B" x="630"/><use href="#B" x="645"/><use href="#B" x="660"/><use href="#B" x="675"/><use href="#B" x="690"/>
<use href="#G" x="720"/>
<rect class="bl" x="0" y="-1" width="874" height="62"/><rect class="gr" x="240" y="-1" width="164" height="62"/>
<text class="t" y="-20"><tspan x="720">♩=111</tspan><tspan x="946">♩=110</tspan></text>
<text class="m" y="-7"><tspan x="1">92</tspan><tspan x="241">93</tspan><tspan x="481">94</tspan><tspan x="721">95</tspan></text>
<text class="a" y="76"><tspan x="239">400</tspan><tspan x="479">400</tspan><tspan x="719">400</tspan><tspan x="959">25</tspan></text>
<text class="b" y="89"><tspan x="239">127391</tspan><tspan x="479">132191</tspan><tspan x="719">136991</tspan><tspan x="959">137291</tspan></text>
<text class="c" y="102"><tspan x="239">0.00%</tspan><tspan x="479">21.09%</tspan><tspan x="719">8.59%</tspan><tspan x="959">0.00%</tspan></text>
</g>

<g id="row25" transform="translate(31.3,3590.5)"><use href="#S4"/>
<text class="t" y="-20"><tspan x="212">♩=109</tspan><tspan x="392">♩=114</tspan><tspan x="572">♩=112</tspan><tspan x="662">♩=109</tspan><tspan x="752">♩=111</tspan><tspan x="932">♩=111</tspan></text>
<text class="m" y="-7"><tspan x="1">96</tspan><tspan x="241">97</tspan><tspan x="481">98</tspan><tspan x="721">99</tspan></text>
<text class="a" y="76"><tspan x="239">0</tspan><tspan x="479">0</tspan><tspan x="719">0</tspan><tspan x="959">0</tspan></text>
<text class="b" y="89"><tspan x="239">137291</tspan><tspan x="479">137291</tspan><tspan x="719">137291</tspan><tspan x="959">137291</tspan></text>
<text class="c" y="102"><tspan x="239">0.00%</tspan><tspan x="479">0.00%</tspan><tspan x="719">0.00%</tspan><tspan x="959">0.00%</tspan></text>
</g>

<g id="row26" transform="translate(31.3,3731.55)">
<rect class="yb" x="600" y="-10.6" width="75" height="81.2"/>
<rect width="780" height="60" fill="url(#bt)"/><path d="M0 15H780M0 30H780M0 45H780" class="hl"/><path d="M300 0V60M540 0V60" class="ml"/><rect width="780" height="60" class="bd"/>
<text class="ts" x="3" y="27">5</text><text class="ts" x="3" y="57">4</text><text class="ts" x="303" y="27">4</text><text class="ts" x="303" y="57">4</text>
<path class="sb" d="M180 45H240"/><path class="so" d="M180 60H240"/>
<use href="#B" x="180"/><use href="#B" x="300"/><use href="#B" x="345"/><use href="#B" x="450"/><use href="#B" x="495"/><use href="#O" x="180"/>
<use href="#SB" x="600"/><use href="#SO" x="630"/><use href="#SO" x="675"/>
<rect class="gr" x="600" y="-1" width="75" height="62"/>
<text class="t" y="-20"><tspan x="0">♩=111</tspan><tspan x="182">♩=111</tspan><tspan x="302">♩=111</tspan></text>
<text class="m" y="-7"><tspan x="1">100</tspan><tspan x="301">101</tspan><tspan x="541">102</tspan></text>
<text class="a" y="76"><tspan x="299">74</tspan><tspan x="539">100</tspan><tspan x="779">75</tspan></text>
<text class="b" y="89"><tspan x="299">137735</tspan><tspan x="539">138335</tspan><tspan x="779">138785</tspan></text>
<text class="c" y="102"><tspan x="299">0.00%</tspan><tspan x="539">0.00%</tspan><tspan x="779">25.00%</tspan></text>
</g>

<g id="row27" transform="translate(31.3,3872.6)"><use href="#S4"/>
<path class="sg" d="M120 0H165M720 0H765"/>
<use href="#G" x="120"/><use href="#G" x="720"/>
<use href="#R" x="180"/><use href="#R" x="225"/><use href="#R" x="330"/><use href="#R" x="375"/>
<use href="#O" x="0"/><use href="#O" x="30"/><use href="#O" x="75"/>
<use href="#Y" x="480"/><use href="#Y" x="525"/><use href="#Y" x="630"/><use href="#Y" x="675"/>
<use href="#B" x="780"/><use href="#B" x="825"/><use href="#B" x="930"/>
<rect class="bl" x="480" y="-1" width="480" height="62"/>
<text class="m" y="-7"><tspan x="1">103</tspan><tspan x="241">104</tspan><tspan x="481">105</tspan><tspan x="721">106</tspan></text>
<text class="a" y="76"><tspan x="239">159</tspan><tspan x="479">50</tspan><tspan x="719">100</tspan><tspan x="959">109</tspan></text>
<text class="b" y="89"><tspan x="239">139739</tspan><tspan x="479">140039</tspan><tspan x="719">141239</tspan><tspan x="959">142547</tspan></text>
<text class="c" y="102"><tspan x="239">25.00%</tspan><tspan x="479">24.98%</tspan><tspan x="719">12.48%</tspan><tspan x="959">0.00%</tspan></text>
</g>

<g id="row28" transform="translate(31.3,4013.65)"><use href="#S4"/>
<path class="sg" d="M420 0H465"/>
<use href="#B" x="15"/><use href="#B" x="120"/>
<use href="#O" x="150"/><use href="#O" x="195"/><use href="#O" x="300"/><use href="#O" x="330"/><use href="#O" x="375"/>
<use href="#G" x="420"/>
<use href="#R" x="480"/><use href="#R" x="525"/><use href="#R" x="630"/><use href="#R" x="675"/>
<use href="#Y" x="780"/><use href="#Y" x="825"/><use href="#Y" x="930"/>
<rect class="bl" x="0" y="-1" width="480" height="62"/>
<text class="m" y="-7"><tspan x="1">107</tspan><tspan x="241">108</tspan><tspan x="481">109</tspan><tspan x="721">110</tspan></text>
<text class="a" y="76"><tspan x="239">100</tspan><tspan x="479">109</tspan><tspan x="719">100</tspan><tspan x="959">75</tspan></text>
<text class="b" y="89"><tspan x="239">143747</tspan><tspan x="479">145055</tspan><tspan x="719">145805</tspan><tspan x="959">146255</tspan></text>
<text class="c" y="102"><tspan x="239">0.00%</tspan><tspan x="479">0.00%</tspan><tspan x="719">0.00%</tspan><tspan x="959">0.00%</tspan></text>
</g>

<g id="row29" transform="translate(31.3,4154.7)"><use href="#S4"/>
<path class="sg" d="M60 0H105M720 0H765"/>
<use href="#G" x="60"/><use href="#Y" x="15"/>
<use href="#B" x="120"/><use href="#B" x="165"/><use href="#B" x="270"/><use href="#B" x="315"/><use href="#B" x="420"/>
<use href="#O" x="450"/><use href="#O" x="495"/>
<use href="#SO" x="600"/><use href="#SO" x="630"/><use href="#SO" x="675"/><use href="#SG" x="720"/>
<use href="#R" x="780"/><use href="#R" x="825"/><use href="#R" x="930"/>
<rect class="gr" x="600" y="-1" width="165" height="62"/>
<text class="m" y="-7"><tspan x="1">111</tspan><tspan x="241">112</tspan><tspan x="481">113</tspan><tspan x="721">114</tspan></text>
<text class="a" y="76"><tspan x="239">109</tspan><tspan x="479">100</tspan><tspan x="719">100</tspan><tspan x="959">109</tspan></text>
<text class="b" y="89"><tspan x="239">146909</tspan><tspan x="479">147509</tspan><tspan x="719">148109</tspan><tspan x="959">148763</tspan></text>
<text class="c" y="102"><tspan x="239">0.00%</tspan><tspan x="479">0.00%</tspan><tspan x="719">0.00%</tspan><tspan x="959">27.55%</tspan></text>
</g>

<g id="row30" transform="translate(31.3,4295.75)"><use href="#S4"/>
<path class="sg" d="M360 0H405"/>
<use href="#R" x="15"/>
<use href="#Y" x="120"/><use href="#Y" x="165"/><use href="#Y" x="270"/><use href="#Y" x="315"/>
<use href="#G" x="360"/>
<use href="#B" x="420"/><use href="#B" x="465"/><use href="#B" x="570"/><use href="#B" x="615"/><use href="#B" x="720"/>
<use href="#O" x="750"/><use href="#O" x="795"/><use href="#O" x="900"/><use href="#O" x="930"/>
<text class="m" y="-7"><tspan x="1">115</tspan><tspan x="241">116</tspan><tspan x="481">117</tspan><tspan x="721">118</tspan></text>
<text class="a" y="76"><tspan x="239">75</tspan><tspan x="479">134</tspan><tspan x="719">50</tspan><tspan x="959">125</tspan></text>
<text class="b" y="89"><tspan x="239">149213</tspan><tspan x="479">150017</tspan><tspan x="719">150317</tspan><tspan x="959">151067</tspan></text>
<text class="c" y="102"><tspan x="239">27.55%</tspan><tspan x="479">27.55%</tspan><tspan x="719">27.55%</tspan><tspan x="959">27.55%</tspan></text>
</g>

<g id="row31" transform="translate(31.3,4436.8)"><use href="#S4"/>
<path class="sg" d="M60 0H105M660 0H705"/><path class="sr" d="M765 15H840M915 15H960"/>
<use href="#G" x="60"/><use href="#G" x="660"/><use href="#O" x="15"/>
<use href="#R" x="120"/><use href="#R" x="165"/><use href="#R" x="270"/><use href="#R" x="315"/><use href="#R" x="720"/><use href="#R" x="765"/><use href="#R" x="870"/><use href="#R" x="915"/>
<use href="#Y" x="420"/><use href="#Y" x="465"/><use href="#Y" x="570"/><use href="#Y" x="615"/>
<text class="t" y="-20"><tspan x="662">♩=99</tspan><tspan x="722">♩=111</tspan></text>
<text class="m" y="-7"><tspan x="1">119</tspan><tspan x="241">120</tspan><tspan x="481">121</tspan><tspan x="721">122</tspan></text>
<text class="a" y="76"><tspan x="239">109</tspan><tspan x="479">100</tspan><tspan x="719">84</tspan><tspan x="959">124</tspan></text>
<text class="b" y="89"><tspan x="239">151721</tspan><tspan x="479">152321</tspan><tspan x="719">152825</tspan><tspan x="959">153569</tspan></text>
<text class="c" y="102"><tspan x="239">27.55%</tspan><tspan x="479">27.55%</tspan><tspan x="719">27.55%</tspan><tspan x="959">27.55%</tspan></text>
</g>

<g id="row32" transform="translate(31.3,4577.85)">
<rect class="yb" x="210" y="-10.6" width="270" height="81.2"/>
<use href="#S4"/>
<path class="sr" d="M0 15H30M705 15H780M855 15H945"/><path class="sy" d="M105 30H180M255 30H330"/><path class="sg" d="M405 0H480M555 0H630"/>
<use href="#Y" x="60"/><use href="#Y" x="105"/><use href="#SY" x="210"/><use href="#SY" x="255"/><use href="#SG" x="360"/><use href="#SG" x="405"/>
<use href="#G" x="510"/><use href="#G" x="555"/>
<use href="#R" x="660"/><use href="#R" x="705"/><use href="#R" x="810"/><use href="#R" x="855"/>
<rect class="gr" x="210" y="-1" width="270" height="62"/>
<text class="m" y="-7"><tspan x="1">123</tspan><tspan x="241">124</tspan><tspan x="481">125</tspan><tspan x="721">126</tspan></text>
<text class="a" y="76"><tspan x="239">96</tspan><tspan x="479">105</tspan><tspan x="719">118</tspan><tspan x="959">80</tspan></text>
<text class="b" y="89"><tspan x="239">154145</tspan><tspan x="479">154775</tspan><tspan x="719">155483</tspan><tspan x="959">155963</tspan></text>
<text class="c" y="102"><tspan x="239">27.55%</tspan><tspan x="479">61.05%</tspan><tspan x="719">61.05%</tspan><tspan x="959">61.05%</tspan></text>
</g>

<g id="row33" transform="translate(31.3,4718.9)"><use href="#S4"/>
<path class="sy" d="M45 30H135M195 30H285M945 30H960"/><path class="sg" d="M345 0H435M495 0H585"/><path class="sr" d="M645 15H735M795 15H885"/>
<use href="#Y" x="0"/><use href="#Y" x="45"/><use href="#Y" x="150"/><use href="#Y" x="195"/><use href="#Y" x="900"/><use href="#Y" x="945"/>
<use href="#G" x="300"/><use href="#G" x="345"/><use href="#G" x="450"/><use href="#G" x="495"/>
<use href="#R" x="600"/><use href="#R" x="645"/><use href="#R" x="750"/><use href="#R" x="795"/>
<text class="m" y="-7"><tspan x="1">127</tspan><tspan x="241">128</tspan><tspan x="481">129</tspan><tspan x="721">130</tspan></text>
<text class="a" y="76"><tspan x="239">127</tspan><tspan x="479">102</tspan><tspan x="719">108</tspan><tspan x="959">124</tspan></text>
<text class="b" y="89"><tspan x="239">156725</tspan><tspan x="479">157337</tspan><tspan x="719">157985</tspan><tspan x="959">158729</tspan></text>
<text class="c" y="102"><tspan x="239">61.05%</tspan><tspan x="479">61.05%</tspan><tspan x="719">61.05%</tspan><tspan x="959">61.05%</tspan></text>
</g>

<g id="row34" transform="translate(31.3,4859.95)"><use href="#S4"/><text class="m" y="-7"><tspan x="1">131</tspan><tspan x="241">132</tspan><tspan x="481">133</tspan><tspan x="721">134</tspan></text></g>
<g id="row35" transform="translate(31.3,5001)"><use href="#S4"/><text class="m" y="-7"><tspan x="1">135</tspan><tspan x="241">136</tspan><tspan x="481">137</tspan><tspan x="721">138</tspan></text></g>
<g id="row36" transform="translate(31.3,5142.05)"><use href="#S4"/><text class="m" y="-7"><tspan x="1">139</tspan><tspan x="241">140</tspan><tspan x="481">141</tspan><tspan x="721">142</tspan></text></g>
<g id="row37" transform="translate(31.3,5283.1)"><use href="#S4"/><text class="m" y="-7"><tspan x="1">143</tspan><tspan x="241">144</tspan><tspan x="481">145</tspan><tspan x="721">146</tspan></text></g>
<g id="row38" transform="translate(31.3,5424.15)"><use href="#S4"/><text class="m" y="-7"><tspan x="1">147</tspan><tspan x="241">148</tspan><tspan x="481">149</tspan><tspan x="721">150</tspan></text></g>
<g id="row39" transform="translate(31.3,5565.2)"><use href="#S4"/><text class="m" y="-7"><tspan x="1">151</tspan><tspan x="241">152</tspan><tspan x="481">153</tspan><tspan x="721">154</tspan></text></g>
<g id="row40" transform="translate(31.3,5706.25)"><use href="#S4"/><text class="m" y="-7"><tspan x="1">155</tspan><tspan x="241">156</tspan><tspan x="481">157</tspan><tspan x="721">158</tspan></text></g>
<g id="row41" transform="translate(31.3,5847.3)"><use href="#S4"/><text class="m" y="-7"><tspan x="1">159</tspan><tspan x="241">160</tspan><tspan x="481">161</tspan><tspan x="721">162</tspan></text></g>
<g id="row42" transform="translate(31.3,5988.35)"><use href="#S4"/><text class="m" y="-7"><tspan x="1">163</tspan><tspan x="241">164</tspan><tspan x="481">165</tspan><tspan x="721">166</tspan></text></g>
<g id="row43" transform="translate(31.3,6129.4)"><use href="#S4"/><text class="m" y="-7"><tspan x="1">167</tspan><tspan x="241">168</tspan><tspan x="481">169</tspan><tspan x="721">170</tspan></text></g>
<g id="row44" transform="translate(31.3,6270.45)"><use href="#S4"/><text class="m" y="-7"><tspan x="1">171</tspan><tspan x="241">172</tspan><tspan x="481">173</tspan><tspan x="721">174</tspan></text></g>
<g id="row45" transform="translate(31.3,6411.5)"><use href="#S4"/><text class="m" y="-7"><tspan x="1">175</tspan><tspan x="241">176</tspan><tspan x="481">177</tspan><tspan x="721">178</tspan></text></g>
<g id="row46" transform="translate(31.3,6552.55)"><use href="#S4"/><text class="m" y="-7"><tspan x="1">179</tspan><tspan x="241">180</tspan><tspan x="481">181</tspan><tspan x="721">182</tspan></text></g>
<g id="row47" transform="translate(31.3,6693.6)"><use href="#S4"/><text class="m" y="-7"><tspan x="1">183</tspan><tspan x="241">184</tspan><tspan x="481">185</tspan><tspan x="721">186</tspan></text></g>
<g id="row48" transform="translate(31.3,6834.65)"><use href="#S4"/><text class="m" y="-7"><tspan x="1">187</tspan><tspan x="241">188</tspan><tspan x="481">189</tspan><tspan x="721">190</tspan></text></g>
<g id="row49" transform="translate(31.3,6975.7)"><use href="#S4"/><text class="m" y="-7"><tspan x="1">191</tspan><tspan x="241">192</tspan><tspan x="481">193</tspan><tspan x="721">194</tspan></text></g>
<g id="row50" transform="translate(31.3,7116.75)"><use href="#S4"/><text class="m" y="-7"><tspan x="1">195</tspan><tspan x="241">196</tspan><tspan x="481">197</tspan><tspan x="721">198</tspan></text></g>
</g>
</svg>
